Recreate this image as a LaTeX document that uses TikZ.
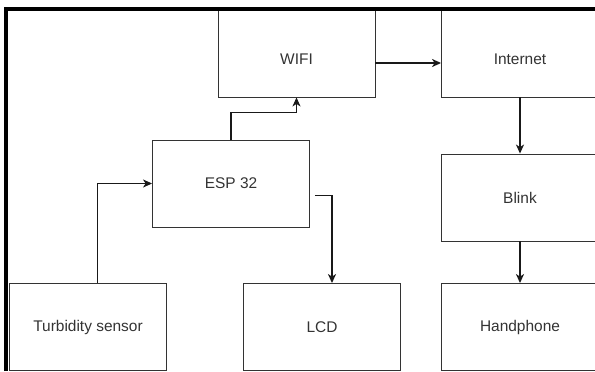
\documentclass[tikz,border=0pt]{standalone}
\usepackage{fontspec}
\setmainfont{Liberation Sans}
\usetikzlibrary{arrows.meta}

\begin{document}
\begin{tikzpicture}[
  x=0.2mm, y=0.2mm,
  box/.style={draw=black!80, line width=0.5pt, minimum width=31.4mm, minimum height=17.4mm,
              inner sep=0pt, text=black!80, font=\fontsize{8.8}{10}\selectfont},
  toprow/.style={text height=13pt, text depth=0pt},
  arr/.style={-{Stealth[length=1.8mm, width=1.6mm, inset=0.5mm]}, line width=0.7pt, black!90}
]
\useasboundingbox (0,0) rectangle (595,371);

\node[box, toprow] (wifi) at (296.5, 317.5) {WIFI};
\node[box, toprow] (inet) at (520,   317.5) {Internet};
\node[box] (esp)    at (231,   187.5) {ESP 32};
\node[box] (blink)  at (520,   173.5) {Blink};
\node[box] (sensor) at (88,    44)    {Turbidity sensor};
\node[box] (lcd)    at (322,   44)    {LCD};
\node[box] (phone)  at (520,   44)    {Handphone};

% outer frame
\draw[line width=0.8mm] (6,0) |- (600,362);

\draw[arr] ([xshift=1.9mm]sensor.north) |- (esp.west);
\draw[arr] (esp.north) -- ++(0,27) -| (wifi.south);
\draw[arr] ([yshift=-1.9mm]wifi.east) -- ([yshift=-1.9mm]inet.west);
\draw[arr] ([shift={(5,-12)}]esp.east) -| ([xshift=2mm]lcd.north);
\draw[arr] (inet) -- (blink);
\draw[arr] (blink) -- (phone);
\end{tikzpicture}
\end{document}
